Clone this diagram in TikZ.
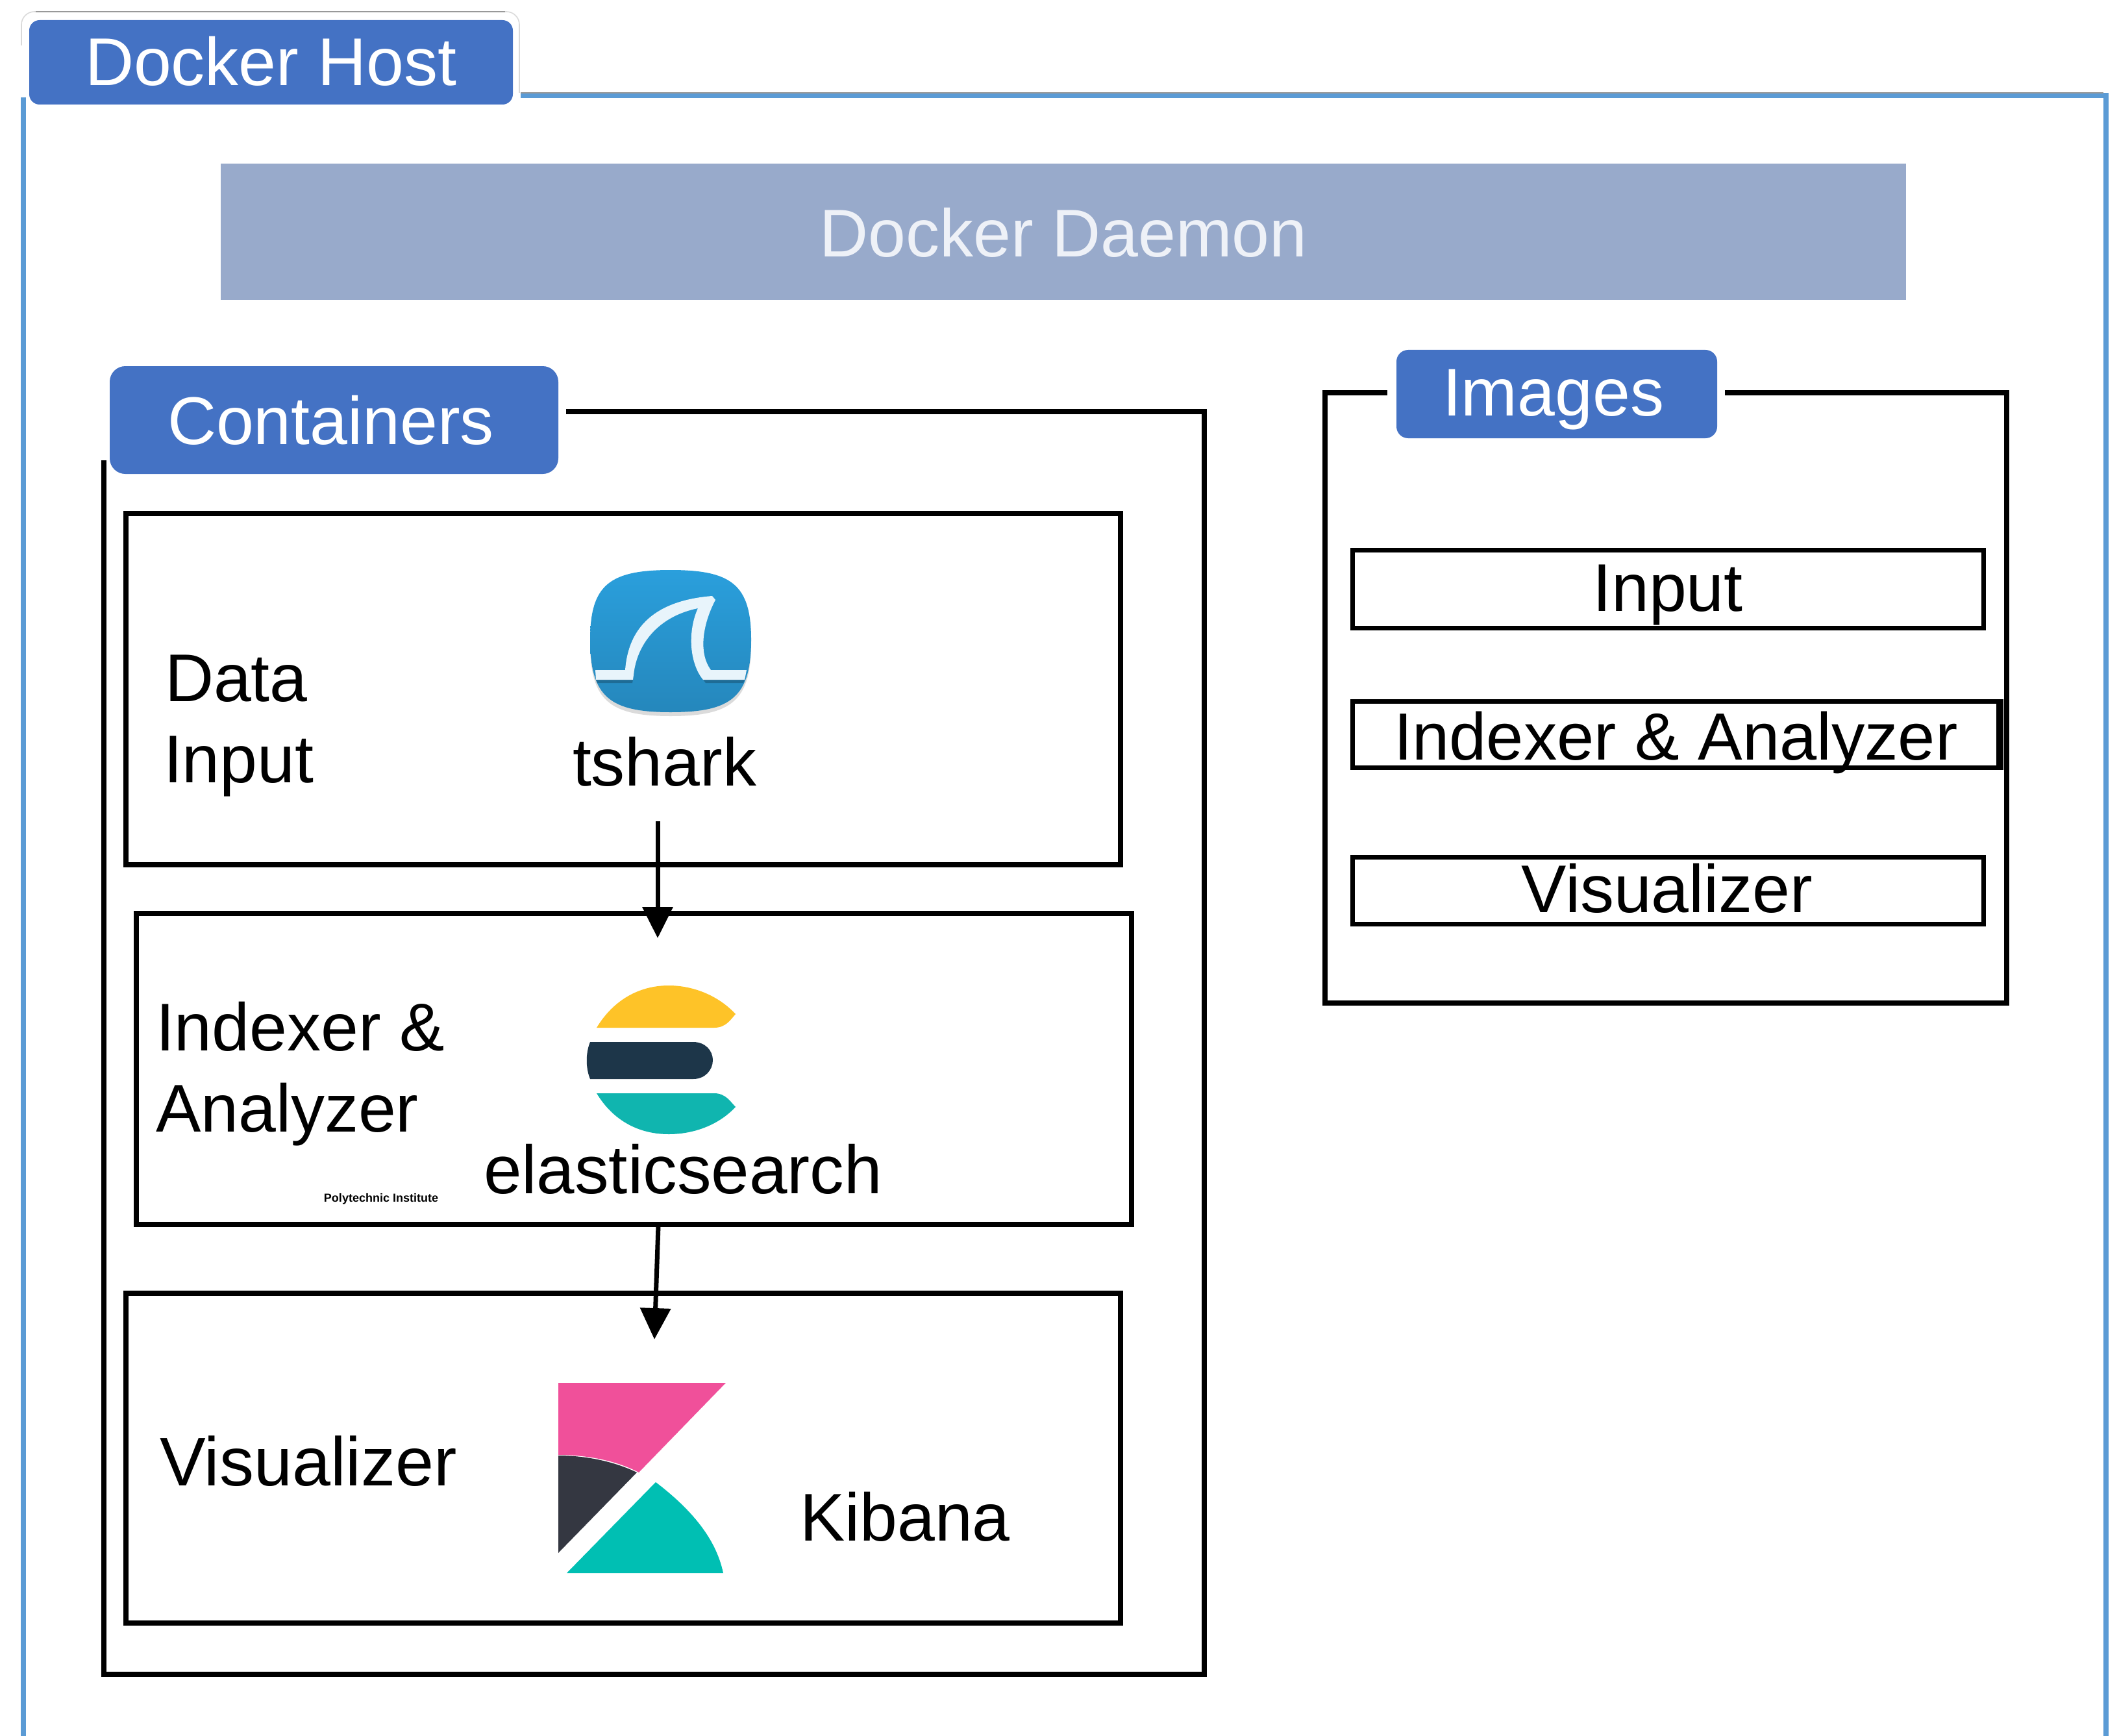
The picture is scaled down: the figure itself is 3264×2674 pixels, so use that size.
\documentclass[tikz,border=0pt]{standalone}
\usepackage{fontspec}
\setmainfont{Liberation Sans}
\usetikzlibrary{fit,arrows.meta}
\definecolor{hostblue}{HTML}{5B9BD5}
\definecolor{pillblue}{HTML}{4472C4}
\definecolor{daemonblue}{HTML}{98AACB}
\definecolor{daemontext}{HTML}{EEF1F7}
\definecolor{sharktop}{HTML}{2A9FDC}
\definecolor{sharkbot}{HTML}{2587BC}
\definecolor{finwhite}{HTML}{E8F4FB}
\definecolor{esyellow}{HTML}{FEC328}
\definecolor{esdark}{HTML}{1D3649}
\definecolor{esteal}{HTML}{10B5AF}
\definecolor{kbpink}{HTML}{F0509A}
\definecolor{kbdark}{HTML}{343741}
\definecolor{kbteal}{HTML}{00BFB3}
\tikzset{
  lbl/.style={font=\fontsize{26}{30}\selectfont, inner sep=0pt, outer sep=0pt, anchor=base west, text=black},
  pilltext/.style={lbl, text=white},
  pillbox/.style={fill=pillblue, draw=none, inner sep=0pt, outer sep=0pt},
  boxn/.style={draw=black, line width=2pt, inner sep=0pt, outer sep=0pt},
  imgbox/.style={draw=black, line width=1.75pt, inner sep=0pt, outer sep=0pt},
  frameline/.style={draw=black, line width=2pt},
  flow/.style={draw=black, line width=1.75pt, -{Triangle[length=12pt,width=11.5pt]}}
}
\begin{document}
\begin{tikzpicture}[x=0.25pt,y=-0.25pt]
\useasboundingbox (0,0) rectangle (3264,2674);
% Docker host frame
\draw[hostblue, line width=2pt] (802,147) -- (3244,147) -- (3244,2674);
\draw[hostblue, line width=2pt] (36,150) -- (36,2674);
\draw[black!40, line width=0.4pt] (802,143) -- (3240,143);
\draw[black!15, line width=0.4pt, rounded corners=5pt] (33,70) -- (33,18) -- (800,18) -- (800,143);
\draw[black!40, line width=0.5pt] (55,18) -- (778,18);
\node[pillbox, rounded corners=4pt, fit={(45,31)(790,161)}] (hostPill) {};
\node[pilltext] (hostText) at (131,132) {Docker Host};
% Daemon
\node[fill=daemonblue, inner sep=0pt, outer sep=0pt, fit={(340,252)(2936,462)}] (daemon) {};
\node[lbl, anchor=base, text=daemontext] (daemonText) at (1638,396) {Docker Daemon};
% Containers
\draw[frameline] (872,634) -- (1855,634) -- (1855,2579) -- (160,2579) -- (160,709);
\node[pillbox, rounded corners=6pt, fit={(169,564)(860,730)}] (contPill) {};
\node[pilltext] (contText) at (258,684) {Containers};
\node[boxn, fit={(194,791)(1726,1332)}] (dataBox) {};
\node[boxn, fit={(210,1407)(1743,1886)}] (indexBox) {};
\node[boxn, fit={(194,1992)(1726,2500)}] (visBox) {};
\node[lbl] (dataText) at (254,1080) {Data};
\node[lbl] (inputText) at (252,1205) {Input};
\node[lbl] (tsharkText) at (882,1210) {tshark};
\node[lbl] (indexerText) at (240,1618) {Indexer \&};
\node[lbl] (analyzerText) at (240,1743) {Analyzer};
\node[lbl, font=\fontsize{26.3}{30}\selectfont] (esText) at (745,1838) {elasticsearch};
\node[inner sep=0pt, font=\bfseries\fontsize{4.5}{5}\selectfont] (polyText) at (587,1847) {Polytechnic Institute};
\node[lbl, font=\fontsize{26.5}{30}\selectfont] (visText) at (246,2288) {Visualizer};
\node[lbl] (kibanaText) at (1232,2373) {Kibana};
% Wireshark icon
\fill[black!14] (1033,884) .. controls (940,884) and (909,906) .. (909,991) .. controls (909,1080) and (940,1103) .. (1033,1103) .. controls (1126,1103) and (1157,1080) .. (1157,991) .. controls (1157,906) and (1126,884) .. (1033,884) -- cycle;
\shade[top color=sharktop, bottom color=sharkbot] (1033,878) .. controls (940,878) and (909,900) .. (909,985) .. controls (909,1074) and (940,1097) .. (1033,1097) .. controls (1126,1097) and (1157,1074) .. (1157,985) .. controls (1157,900) and (1126,878) .. (1033,878) -- cycle;
\fill[sharkbot!80!black] (918,1047) -- (975,1047) -- (974,1052) -- (920,1052) -- cycle;
\fill[sharkbot!80!black] (1083,1047) -- (1147,1047) -- (1145,1052) -- (1087,1052) -- cycle;
\fill[finwhite] (917,1032) -- (963,1032) .. controls (968,965) and (1010,925) .. (1097,918) -- (1102,924) .. controls (1083,960) and (1075,1005) .. (1095,1032) -- (1150,1032) -- (1147,1047) -- (1083,1047) .. controls (1063,1023) and (1058,975) .. (1075,937) .. controls (1020,948) and (985,985) .. (977,1032) -- (975,1047) -- (918,1047) -- cycle;
% Elasticsearch icon
\fill[esyellow] (919,1583) .. controls (945,1540) and (985,1518) .. (1030,1518) .. controls (1070,1518) and (1108,1535) .. (1133,1562) .. controls (1125,1571) and (1118,1583) .. (1100,1583) -- cycle;
\fill[esdark] (909,1605) -- (1068,1605) .. controls (1086,1605) and (1098,1618) .. (1098,1633) .. controls (1098,1648) and (1086,1662) .. (1068,1662) -- (909,1662) .. controls (902,1645) and (902,1622) .. (909,1605) -- cycle;
\fill[esteal] (919,1684) .. controls (945,1727) and (985,1747) .. (1030,1747) .. controls (1070,1747) and (1108,1732) .. (1133,1705) .. controls (1125,1697) and (1118,1684) .. (1100,1684) -- cycle;
% Kibana icon
\fill[kbpink] (860,2130) -- (1118,2130) -- (984,2268) .. controls (950,2250) and (905,2241) .. (860,2241) -- cycle;
\fill[kbdark] (860,2242) .. controls (905,2242) and (948,2252) .. (981,2268) -- (860,2392) -- cycle;
\fill[kbteal] (1010,2283) .. controls (1065,2325) and (1103,2370) .. (1114,2423) -- (873,2423) -- cycle;
% Arrows
\coordinate (a1s) at (1013,1265);
\coordinate (a1e) at (1013,1445);
\coordinate (a2s) at (1014,1888);
\coordinate (a2e) at (1008,2063);
\draw[flow] (a1s) -- (a1e);
\draw[flow] (a2s) -- (a2e);
% Images
\draw[frameline] (2137,605) -- (2041,605) -- (2041,1545) -- (3091,1545) -- (3091,605) -- (2657,605);
\node[pillbox, rounded corners=4.5pt, fit={(2151,539)(2645,675)}] (imgPill) {};
\node[pilltext] (imgText) at (2222,640) {Images};
\node[imgbox, fit={(2083,847)(3055,967)}] (imgInput) {};
\node[imgbox, fit={(2083,1080)(3082,1182)}] (imgIndex) {};
\draw[black, line width=2.5pt] (3080,1078) -- (3080,1184);
\node[imgbox, fit={(2083,1320)(3055,1423)}] (imgVis) {};
\node[lbl, anchor=base] (imgInputText) at (2569,941) {Input};
\node[lbl, font=\fontsize{25.7}{30}\selectfont] (imgIndexText) at (2147,1170) {Indexer \& Analyzer};
\node[lbl, anchor=base] (imgVisText) at (2568,1405) {Visualizer};
\end{tikzpicture}
\end{document}
